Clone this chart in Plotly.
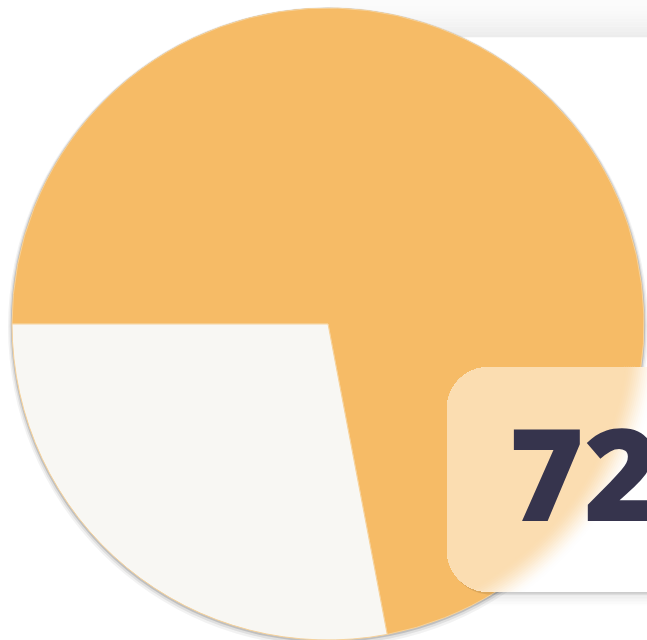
import numpy as np
import plotly.graph_objects as go

# ---- data ----
labels = ["Yes", "No"]
values = [72, 28]
colors = ["#F6BB66", "#F8F7F3"]

W, H = 647, 640
CX, CY, R = 328, 324, 316

fig = go.Figure()
fig.add_trace(go.Pie(
    labels=labels, values=values, sort=False, direction="clockwise",
    rotation=270, textinfo="none", hoverinfo="none", showlegend=False,
    marker=dict(colors=colors, line=dict(color="#F7D29A", width=1)),
    domain=dict(x=[(CX - R) / W, (CX + R) / W], y=[1 - (CY + R) / H, 1 - (CY - R) / H]),
))

shapes = []
# card top shadow band
n = 14
for i in range(n):
    t = i / (n - 1)
    g = int(round(251 - 15 * t ** 1.6))
    shapes.append(dict(type="rect", xref="x", yref="y", x0=330, x1=W + 5,
                       y0=i * 37 / n, y1=(i + 1) * 37 / n + 0.3,
                       fillcolor=f"rgb({g},{g},{g})", line=dict(width=0), layer="below"))
# card bottom shadow
for i in range(10):
    t = i / 9
    g = int(round(228 + 27 * t ** 0.8))
    shapes.append(dict(type="rect", xref="x", yref="y", x0=440, x1=W + 5,
                       y0=592 + i * 1.5, y1=592 + (i + 1) * 1.5 + 0.3,
                       fillcolor=f"rgb({g},{g},{g})", line=dict(width=0), layer="below"))
# pie shadow
for dr, dy, a in [(4, 3, 0.05), (2.5, 2, 0.08), (1.2, 1, 0.14)]:
    shapes.append(dict(type="circle", xref="x", yref="y", x0=CX - R - dr, x1=CX + R + dr,
                       y0=CY - R - dr + dy, y1=CY + R + dr + dy,
                       fillcolor=f"rgba(0,0,0,{a})", line=dict(width=0), layer="below"))


def rrect_pts(x0, y0, x1, y1, r, m=24):
    pts = []
    corners = [(x0 + r, y0 + r, np.pi, 1.5 * np.pi), (x1 - r, y0 + r, 1.5 * np.pi, 2 * np.pi),
               (x1 - r, y1 - r, 0, 0.5 * np.pi), (x0 + r, y1 - r, 0.5 * np.pi, np.pi)]
    for cx, cy, a0, a1 in corners:
        for a in np.linspace(a0, a1, m):
            pts.append((cx + r * np.cos(a), cy + r * np.sin(a)))
    out = []
    for k in range(len(pts)):
        p, q = np.array(pts[k]), np.array(pts[(k + 1) % len(pts)])
        L = np.hypot(*(q - p))
        s = max(1, int(L / 2))
        for j in range(s):
            out.append(p + (q - p) * j / s)
    return np.array(out)


def to_path(pts):
    return "M " + " L ".join(f"{x:.2f},{y:.2f}" for x, y in pts) + " Z"


BX0, BY0, BX1, BY1, BR = 447, 367, 690, 592, 42
box = rrect_pts(BX0, BY0, BX1, BY1, BR)
shapes.append(dict(type="path", xref="x", yref="y", path=to_path(box + np.array([1.5, 2.5])),
                   fillcolor="rgba(0,0,0,0.10)", line=dict(width=0), layer="above"))
shapes.append(dict(type="path", xref="x", yref="y", path=to_path(box),
                   fillcolor="#FFFFFF", line=dict(width=0), layer="above"))
# frosted tint of the pie behind the box
tint = np.array([251, 221, 177])
white = np.array([255, 255, 255])
radii = np.linspace(R + 16, R - 16, 17)
for k, rk in enumerate(radii):
    t = (k + 1) / len(radii)
    t = t * t * (3 - 2 * t)
    c = white + (tint - white) * t
    d = box - np.array([CX, CY])
    dist = np.hypot(d[:, 0], d[:, 1])
    pts = box.copy()
    outside = dist > rk
    pts[outside] = np.array([CX, CY]) + d[outside] / dist[outside, None] * rk
    shapes.append(dict(type="path", xref="x", yref="y", path=to_path(pts),
                       fillcolor=f"rgb({int(c[0])},{int(c[1])},{int(c[2])})",
                       line=dict(width=0), layer="above"))

fig.update_layout(
    width=W, height=H, margin=dict(l=0, r=0, t=0, b=0),
    paper_bgcolor="white", plot_bgcolor="rgba(0,0,0,0)",
    xaxis=dict(range=[0, W], visible=False, fixedrange=True, domain=[0, 1]),
    yaxis=dict(range=[H, 0], visible=False, fixedrange=True, domain=[0, 1]),
    shapes=shapes,
    annotations=[dict(x=507, y=471, xref="x", yref="y", xanchor="left", yanchor="middle",
                      text=f"{values[0]}", showarrow=False,
                      font=dict(family="Open Sans", size=128, color="#36344D", weight=800))],
)

fig.write_html("out.html")
